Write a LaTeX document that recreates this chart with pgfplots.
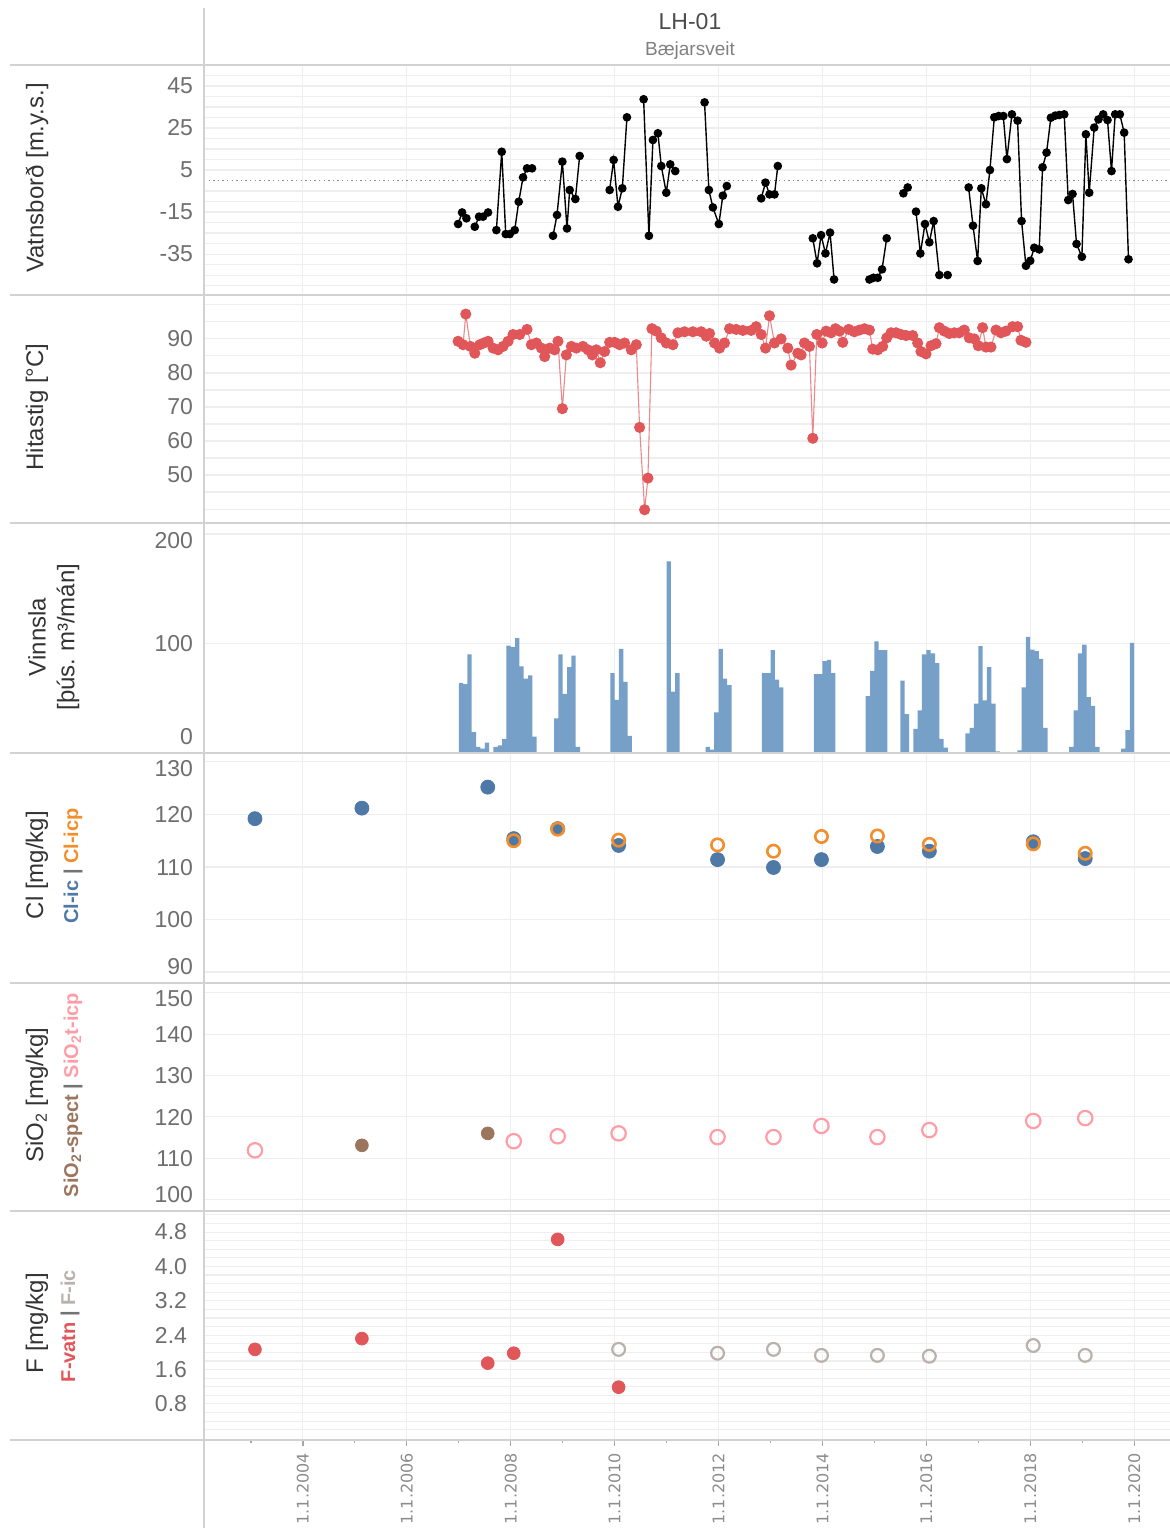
\documentclass[border=0pt]{standalone}
\usepackage{fontspec}
\setmainfont{Liberation Sans}
\newfontfamily\xfont{DejaVu Sans}
\usepackage{pgfplots}
\usepackage{pgfplotstable}
\pgfplotsset{compat=1.18}
\frenchspacing

\definecolor{tabblue}{HTML}{4E79A7}
\definecolor{taborange}{HTML}{F28E2B}
\definecolor{tabred}{HTML}{E15759}
\definecolor{tabbrown}{HTML}{9C755F}
\definecolor{tabpink}{HTML}{FF9DA7}
\definecolor{tabgray}{HTML}{BAB0AC}
\definecolor{barblue}{HTML}{76A0C8}
\definecolor{gridc}{HTML}{EEEEEE}
\definecolor{sepc}{HTML}{D2D2D2}
\definecolor{tickc}{HTML}{6E6E6E}
\definecolor{titlec}{HTML}{333333}

\newcommand\lab[2]{\smash{\raisebox{\dimexpr #1-4.1pt\relax}{#2}}}

\pgfplotsset{
  panel/.style={
    scale only axis, width=483pt,
    xmin=2002.096, xmax=2020.69,
    axis line style={draw=none},
    xtick={2004,2006,...,2020}, xticklabels={},
    xmajorgrids=true, ymajorgrids=true, yminorgrids=true,
    major grid style={draw=gridc, line width=0.55pt},
    minor grid style={draw=gridc, line width=0.55pt},
    xtick style={draw=none}, ytick style={draw=none},
    yticklabel style={font=\fontsize{11.5}{12}\selectfont, text=tickc, xshift=-2pt},
    /pgf/number format/assume math mode=true,
  },
}
\tikzset{
  ttl/.style={rotate=90, font=\fontsize{12}{12}\selectfont, text=titlec},
  sub/.style={rotate=90, font=\bfseries\fontsize{10}{10}\selectfont, text=black!55},
}

% Water level (Vatnsbord), nan = gap in line
\pgfplotstableread{
x y
2006.987 -20.7
2007.064 -15.2
2007.147 -18.0
nan nan
2007.308 -22.0
2007.391 -17.2
2007.468 -17.2
2007.564 -15.2
nan nan
2007.724 -23.6
2007.827 13.7
2007.904 -25.5
2007.981 -25.5
2008.077 -23.6
2008.154 -10.1
2008.237 1.5
2008.314 5.8
2008.410 5.8
nan nan
2008.814 -26.3
2008.891 -16.4
2008.994 9.0
2009.083 -22.8
2009.135 -4.5
2009.244 -8.8
2009.327 11.7
nan nan
2009.904 -4.5
2009.981 9.8
2010.064 -12.5
2010.148 -3.7
2010.237 30.1
nan nan
2010.558 38.7
2010.660 -26.3
2010.737 19.3
2010.833 22.5
2010.898 6.9
2010.994 -5.8
2011.071 7.7
2011.167 4.5
nan nan
2011.731 37.2
2011.814 -4.5
2011.891 -12.8
2012.006 -20.7
2012.083 -7.2
2012.160 -2.6
nan nan
2012.821 -8.5
2012.904 -1.0
2012.981 -6.6
2013.077 -6.6
2013.141 6.9
nan nan
2013.814 -27.5
2013.897 -39.4
2013.974 -26.0
2014.058 -34.7
2014.147 -24.8
2014.224 -47.1
nan nan
2014.904 -47.1
2014.981 -46.3
2015.064 -46.3
2015.147 -42.3
2015.237 -27.5
nan nan
2015.558 -6.1
2015.641 -3.3
nan nan
2015.801 -14.8
2015.885 -34.7
2015.974 -20.7
2016.058 -29.4
2016.141 -19.3
2016.250 -45.0
nan nan
2016.410 -45.0
nan nan
2016.814 -3.3
2016.898 -21.5
2016.987 -38.3
2017.058 -3.7
2017.147 -11.3
2017.224 5.0
2017.308 30.1
2017.391 30.7
2017.481 30.7
2017.551 10.2
2017.647 31.5
2017.756 28.5
2017.833 -19.3
2017.917 -40.6
2018.000 -38.2
2018.077 -32.0
2018.173 -32.8
2018.237 6.3
2018.314 13.3
2018.397 29.9
2018.481 30.9
2018.558 31.2
2018.654 31.5
2018.731 -9.3
2018.814 -6.4
2018.891 -30.2
2018.994 -36.3
2019.071 22.0
2019.135 -5.8
2019.231 25.2
2019.314 29.1
2019.404 31.5
2019.487 28.8
2019.564 4.5
2019.635 31.5
2019.724 31.5
2019.808 22.8
2019.891 -37.5
}\wl

% Temperature (Hitastig)
\pgfplotstableread{
x y
2006.987 89.3
2007.083 88.3
2007.135 97.3
2007.224 87.8
2007.308 85.8
2007.404 88.3
2007.481 88.8
2007.564 89.3
2007.660 87.3
2007.756 86.8
2007.853 87.8
2007.949 89.3
2008.045 91.3
2008.173 91.3
2008.314 92.8
2008.397 88.3
2008.494 88.8
2008.590 87.3
2008.654 84.8
2008.750 87.3
2008.846 86.8
2008.910 89.3
2008.994 69.5
2009.071 85.3
2009.167 87.8
2009.263 87.3
2009.391 87.8
2009.487 86.8
2009.571 85.3
2009.647 86.8
2009.724 83.0
2009.808 86.3
2009.904 89.0
2010.000 89.0
2010.096 88.3
2010.192 88.8
2010.321 86.8
2010.417 88.3
2010.481 64.0
2010.577 39.8
2010.641 49.1
2010.718 93.0
2010.801 92.3
2010.897 90.3
2010.994 88.8
2011.122 88.3
2011.218 91.8
2011.346 92.1
2011.506 92.1
2011.667 92.1
2011.763 90.8
2011.827 91.6
2011.923 88.8
2012.019 87.3
2012.115 88.8
2012.212 93.0
2012.340 92.8
2012.468 92.5
2012.628 92.5
2012.724 93.6
2012.821 91.3
2012.904 87.3
2012.981 96.8
2013.077 88.8
2013.205 90.0
2013.333 87.3
2013.397 82.3
2013.526 85.8
2013.590 85.3
2013.654 88.8
2013.750 87.8
2013.814 60.8
2013.891 91.3
2013.994 88.8
2014.071 92.3
2014.167 91.8
2014.250 93.0
2014.327 92.3
2014.391 89.0
2014.506 92.8
2014.615 92.1
2014.712 92.6
2014.808 93.0
2014.904 92.6
2014.968 87.0
2015.064 86.8
2015.160 87.8
2015.237 90.3
2015.321 91.8
2015.417 91.8
2015.513 91.3
2015.609 91.0
2015.737 91.0
2015.833 88.8
2015.897 86.3
2015.994 85.6
2016.090 88.0
2016.186 88.6
2016.250 93.3
2016.346 92.3
2016.442 91.6
2016.538 91.8
2016.635 91.8
2016.731 92.6
2016.827 90.3
2016.923 90.0
2017.000 88.0
2017.083 93.3
2017.147 87.6
2017.244 87.6
2017.340 92.6
2017.436 91.8
2017.532 92.3
2017.660 93.6
2017.756 93.6
2017.821 89.6
2017.917 89.0
}\temp

% Production (Vinnsla), monthly
\pgfplotstableread{
x y
2007.042 64
2007.125 63
2007.208 90
2007.292 19
2007.375 5.5
2007.458 4
2007.542 9.5
2007.708 5.5
2007.792 7
2007.875 13
2007.958 98
2008.042 97
2008.125 105
2008.208 79
2008.292 68
2008.375 71
2008.458 15
2008.875 31.6
2008.958 90
2009.042 54
2009.125 78.5
2009.208 89
2009.292 5.5
2009.958 73
2010.042 48.5
2010.125 95
2010.208 65
2010.292 15.6
2011.042 175
2011.125 56
2011.208 73
2011.792 5.5
2011.875 3
2011.958 37
2012.042 95
2012.125 68
2012.208 62
2012.875 73
2012.958 73
2013.042 94
2013.125 67
2013.208 60
2013.875 72
2013.958 72
2014.042 84
2014.125 85
2014.208 73
2014.875 52
2014.958 75
2015.042 102
2015.125 94
2015.208 94
2015.542 66
2015.625 35.6
2015.792 22
2015.875 39
2015.958 90
2016.042 94
2016.125 91
2016.208 82
2016.292 13
2016.375 5
2016.792 18
2016.875 23
2016.958 45
2017.042 97.5
2017.125 48
2017.208 78.5
2017.292 45
2017.375 1.5
2017.792 2.5
2017.875 60
2017.958 106
2018.042 94.5
2018.125 93
2018.208 86
2018.292 23
2018.792 5.5
2018.875 39
2018.958 91
2019.042 99
2019.125 51
2019.208 43
2019.292 5.5
2019.792 4
2019.875 21
2019.958 100.6
}\prod

\pgfplotstableread{
x y
2003.077 119.2
2005.135 121.2
2007.558 125.2
2008.058 115.4
2008.904 117.3
2010.077 114.1
2011.981 111.4
2013.058 109.9
2013.981 111.4
2015.058 113.9
2016.058 113.0
2018.058 114.8
2019.058 111.6
}\clic

\pgfplotstableread{
x y
2008.058 115.0
2008.904 117.2
2010.077 115.1
2011.981 114.2
2013.058 113.0
2013.981 115.8
2015.058 115.9
2016.058 114.3
2018.058 114.4
2019.058 112.6
}\clicp

\pgfplotstableread{
x y
2003.077 111.9
2008.058 114.1
2008.904 115.3
2010.077 116.0
2011.981 115.1
2013.058 115.1
2013.981 117.8
2015.058 115.1
2016.058 116.8
2018.058 119.0
2019.058 119.7
}\sicp

\pgfplotstableread{
x y
2005.135 113.1
2007.558 116.0
}\sspect

\pgfplotstableread{
x y
2003.077 2.07
2005.135 2.32
2007.558 1.75
2008.058 1.98
2008.904 4.63
2010.077 1.19
}\fvatn

\pgfplotstableread{
x y
2010.077 2.07
2011.981 1.98
2013.058 2.07
2013.981 1.93
2015.058 1.93
2016.058 1.91
2018.058 2.16
2019.058 1.93
}\fic

\begin{document}
\begin{tikzpicture}
\useasboundingbox (0,0) rectangle (585pt,-764pt);

% Panel 1: water level
\begin{axis}[panel, at={(102pt,-147.5pt)}, anchor=south west, height=115pt,
  ymin=-54.5, ymax=55, ytick={-35,-15,5,25,45},
  minor ytick={-50,-45,-40,-30,-25,-20,-10,-5,10,15,20,30,35,40,50},
  extra y ticks={0}, extra y tick labels={},
  extra y tick style={major grid style={draw=black!45, dash pattern=on 0.7pt off 1.6pt, line width=0.5pt}},
  unbounded coords=jump]
\addplot[black, line width=0.7pt, mark=*, mark size=1.8pt] table[x=x,y=y] {\wl};
\end{axis}

% Panel 2: temperature
\begin{axis}[panel, at={(102pt,-261.5pt)}, anchor=south west, height=114pt,
  ymin=35.9, ymax=102.9, ytick={50,60,70,80,90},
  minor ytick={40,45,55,65,75,85,95,100}]
\addplot[draw=tabred!70, line width=0.55pt, mark=*, mark size=2.5pt,
  mark options={draw=tabred, fill=tabred}] table[x=x,y=y] {\temp};
\end{axis}

% Panel 3: production
\begin{axis}[panel, at={(102pt,-376.5pt)}, anchor=south west, height=115pt,
  ymin=0, ymax=210, ytick={0,100,200},
  yticklabels={\lab{8.5pt}{0},\lab{0pt}{100},\lab{-3pt}{200}}]
\addplot[ybar, bar width=0.0833, fill=barblue, draw=none] table[x=x,y=y] {\prod};
\end{axis}

% Panel 4: Cl
\begin{axis}[panel, at={(102pt,-491.5pt)}, anchor=south west, height=115pt,
  ymin=87.9, ymax=131.7, ytick={90,100,110,120,130},
  yticklabels={\lab{3pt}{90},\lab{0pt}{100},\lab{0pt}{110},\lab{0pt}{120},\lab{-3pt}{130}}]
\addplot[only marks, mark=*, mark size=3.5pt, draw=tabblue, fill=tabblue] table[x=x,y=y] {\clic};
\addplot[only marks, mark=o, mark size=3.1pt, line width=1.3pt, draw=taborange] table[x=x,y=y] {\clicp};
\end{axis}

% Panel 5: SiO2
\begin{axis}[panel, at={(102pt,-605.5pt)}, anchor=south west, height=114pt,
  ymin=97.2, ymax=152.4, ytick={100,110,120,130,140,150},
  yticklabels={\lab{2.5pt}{100},\lab{0pt}{110},\lab{0pt}{120},\lab{0pt}{130},\lab{0pt}{140},\lab{-2.5pt}{150}}]
\addplot[only marks, mark=*, mark size=3.2pt, draw=tabbrown, fill=tabbrown] table[x=x,y=y] {\sspect};
\addplot[only marks, mark=o, mark size=3.6pt, line width=1.1pt, draw=tabpink] table[x=x,y=y] {\sicp};
\end{axis}

% Panel 6: F
\begin{axis}[panel, at={(102pt,-720pt)}, anchor=south west, height=114.5pt,
  ymin=-0.04, ymax=5.29, ytick={0.8,1.6,2.4,3.2,4.0,4.8},
  minor ytick={0.2,0.4,0.6,1.0,1.2,1.4,1.8,2.0,2.2,2.6,2.8,3.0,3.4,3.6,3.8,4.2,4.4,4.6,5.0,5.2},
  yticklabel style={/pgf/number format/.cd, fixed, fixed zerofill, precision=1},
  minor xtick={2003,2005,2007,2009,2011,2013,2015,2017,2019},
  xtick style={draw=black!35, line width=0.6pt},
  tick align=outside, xtick pos=lower,
  major tick length=3pt, minor tick length=1.6pt,
  xticklabels={1.1.2004,1.1.2006,1.1.2008,1.1.2010,1.1.2012,1.1.2014,1.1.2016,1.1.2018,1.1.2020},
  xticklabel style={rotate=90, anchor=east, font=\xfont\fontsize{8}{9}\selectfont, text=black!45}]
\addplot[only marks, mark=*, mark size=3.2pt, draw=tabred, fill=tabred] table[x=x,y=y] {\fvatn};
\addplot[only marks, mark=o, mark size=3.2pt, line width=1.1pt, draw=tabgray] table[x=x,y=y] {\fic};
\end{axis}

% separators
\foreach \yy in {-32.5,-147.5,-261.5,-376.5,-491.5,-605.5,-720}
  \draw[sepc, line width=0.9pt] (5pt,\yy pt) -- (585pt,\yy pt);
\draw[sepc, line width=0.9pt] (102pt,-4pt) -- (102pt,-764pt);

% titles
\node[font=\fontsize{11.5}{12}\selectfont, text=black!70] at (345pt,-11pt) {LH-01};
\node[font=\fontsize{9.5}{10}\selectfont, text=black!50] at (345pt,-25.5pt) {Bæjarsveit};

% axis titles
\node[ttl] at (18.5pt,-89pt) {Vatnsborð [m.y.s.]};
\node[ttl] at (18.5pt,-203.5pt) {Hitastig [°C]};
\node[ttl] at (18.5pt,-318.5pt) {Vinnsla};
\node[ttl] at (34pt,-318.5pt) {[þús. m³/mán]};
\node[ttl] at (18.5pt,-432.5pt) {Cl [mg/kg]};
\node[sub] at (36.5pt,-433pt) {\textcolor{tabblue}{Cl-ic} | \textcolor{taborange}{Cl-icp}};
\node[ttl] at (18.5pt,-547.5pt) {SiO\textsubscript{2} [mg/kg]};
\node[sub] at (36.5pt,-547.5pt) {\textcolor{tabbrown}{SiO\textsubscript{2}-spect} | \textcolor{tabpink}{SiO\textsubscript{2}t-icp}};
\node[ttl] at (18.5pt,-661.5pt) {F [mg/kg]};
\node[sub] at (35pt,-663pt) {\textcolor{tabred}{F-vatn} | \textcolor{tabgray}{F-ic}};
\end{tikzpicture}
\end{document}
